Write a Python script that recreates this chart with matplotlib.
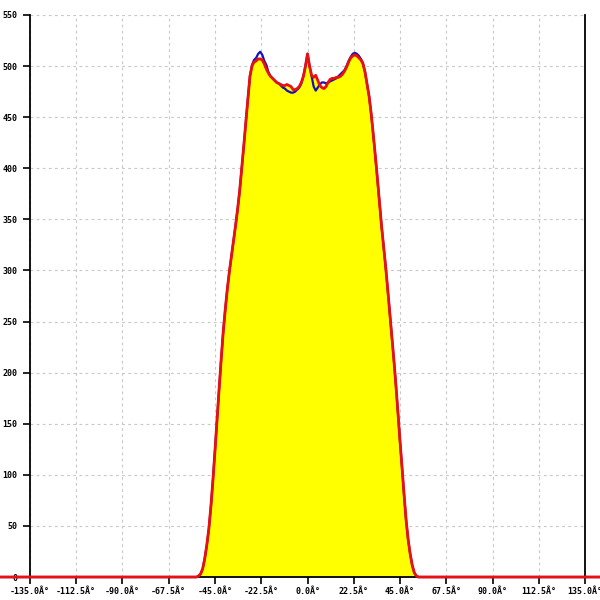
import matplotlib
matplotlib.use("Agg")
import matplotlib.pyplot as plt
import numpy as np

angles = [-180, -54, -53, -52, -51, -50, -49, -48, -47, -46, -45, -44, -43, -42, -41, -40,
          -39, -38, -37, -36, -35, -34, -33, -32, -31, -30, -29, -28, -27, -26, -25,
          -24, -23, -22, -21, -20, -19, -18, -17, -16, -15, -14, -13, -12, -11, -10,
          -9, -8, -7, -6, -5, -4, -3, -2, -1, 0, 1, 2, 3, 4, 5, 6, 7, 8, 9, 10,
          11, 12, 13, 14, 15, 16, 17, 18, 19, 20, 21, 22, 23, 24, 25, 26, 27, 28,
          29, 30, 31, 32, 33, 34, 35, 36, 37, 38, 39, 40, 41, 42, 43, 44, 45, 46,
          47, 48, 49, 50, 51, 52, 53, 54, 180]

blue = [0, 0, 1, 3, 8, 18, 31, 47, 69, 95, 124, 154, 184, 213, 240, 262,
        282, 299, 314, 329, 344, 360, 378, 400, 422, 445, 468, 490, 501, 506, 508,
        512, 514, 511, 505, 501, 494, 490, 488, 486, 484, 483, 481, 479, 478, 476,
        475, 474, 474, 475, 477, 479, 483, 490, 500, 512, 500, 490, 480, 476, 479, 482, 484, 484, 483, 484,
        485, 486, 487, 488, 490, 492, 494, 496, 500, 505, 509, 512, 513, 512, 510, 507, 503, 494,
        482, 470, 453, 433, 412, 390, 367, 344, 324, 304, 282, 259, 236, 213, 188, 161, 133, 107,
        80, 55, 36, 22, 11, 4, 1, 0, 0]

red = [0, 0, 1, 3, 8, 18, 31, 47, 69, 95, 124, 154, 184, 213, 240, 262,
       282, 299, 314, 329, 344, 360, 378, 400, 422, 445, 468, 490, 500, 504, 505,
       507, 507, 506, 502, 497, 493, 490, 488, 486, 484, 483, 482, 481, 481, 482,
       481, 480, 477, 477, 478, 480, 484, 490, 500, 512, 500, 491, 489, 491, 486, 481, 479, 478, 480, 484,
       487, 488, 488, 489, 489, 490, 492, 495, 499, 504, 508, 510, 511, 510, 508, 506, 502, 494,
       482, 470, 453, 433, 412, 390, 367, 344, 324, 304, 282, 259, 236, 213, 188, 161, 133, 107,
       80, 55, 36, 22, 11, 4, 1, 0, 0]

x_ticks = [-135.0, -112.5, -90.0, -67.5, -45.0, -22.5, 0.0, 22.5, 45.0, 67.5, 90.0, 112.5, 135.0]
x_tick_labels = ["%.1fÂ°" % v for v in x_ticks]
y_ticks = [0, 50, 100, 150, 200, 250, 300, 350, 400, 450, 500, 550]

fig = plt.figure(figsize=(6, 6), dpi=100)
ax = fig.add_axes([0.05, 0.0383, 0.925, 0.9367])
ax.set_xlim(-135, 135)
ax.set_ylim(0, 550)

ax.fill_between(angles, red, 0, color="#ffff00", linewidth=0, zorder=2)
ax.plot(angles, blue, color="#1414b4", linewidth=1.6, zorder=3, clip_on=False)
ax.plot(angles, red, color="#e81010", linewidth=2.0, zorder=4, clip_on=False)

ax.set_xticks(x_ticks)
ax.set_xticklabels(x_tick_labels)
ax.set_yticks(y_ticks)
ax.set_yticklabels([str(v) for v in y_ticks])

for lab in ax.get_xticklabels() + ax.get_yticklabels():
    lab.set_family("DejaVu Sans Mono")
    lab.set_fontsize(6)
    lab.set_fontweight("bold")

ax.tick_params(axis="x", direction="out", length=5, width=1.2, color="black", pad=2.5)
ax.tick_params(axis="y", direction="out", length=5, width=1.2, color="black", pad=4)
ax.grid(True, color="#c8c8c8", linestyle=(0, (2.5, 3)), linewidth=0.8, zorder=1)
ax.set_axisbelow(True)

ax.spines["top"].set_visible(False)
for s in ["left", "right", "bottom"]:
    ax.spines[s].set_color("black")
    ax.spines[s].set_linewidth(1.3)

fig.savefig("out.png", dpi=100)
